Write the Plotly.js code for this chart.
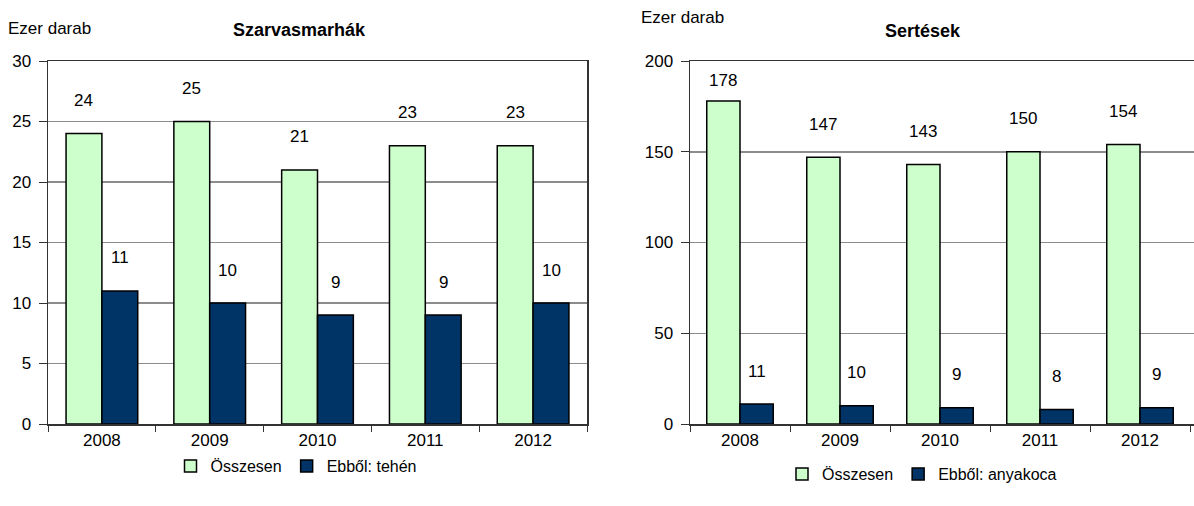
<!DOCTYPE html>
<html>
<head>
<meta charset="utf-8">
<script src="https://cdn.plot.ly/plotly-3.0.1.min.js"></script>
<style>
  html, body { margin: 0; padding: 0; background: #fff; }
  #chart { width: 1194px; height: 506px; }
</style>
</head>
<body>
<div id="chart"></div>
<script>
// data
var years = ['2008', '2009', '2010', '2011', '2012'];
var cattleTotal = [24, 25, 21, 23, 23];
var cattleCows = [11, 10, 9, 9, 10];
var pigsTotal = [178, 147, 143, 150, 154];
var pigsSows = [11, 10, 9, 8, 9];

var W = 1194, H = 506;
var plotTop = 61, plotBottom = 424;
var font = 'Liberation Sans, Arial, sans-serif';
var green = '#ccffcc', navy = '#003366';

function bar(y, name, color, xa, ya, leg) {
  return {
    type: 'bar', x: years, y: y, name: name,
    xaxis: xa, yaxis: ya, legend: leg,
    marker: {color: color, line: {color: '#000', width: 1.5}},
    hoverinfo: 'none'
  };
}

var data = [
  bar(cattleTotal, 'Összesen', green, 'x', 'y', 'legend'),
  bar(cattleCows, 'Ebből: tehén', navy, 'x', 'y', 'legend'),
  bar(pigsTotal, 'Összesen', green, 'x2', 'y2', 'legend2'),
  bar(pigsSows, 'Ebből: anyakoca', navy, 'x2', 'y2', 'legend2')
];

// value labels, ~32px above each bar (kept inside the frame)
var annotations = [];
var gap = 0.335;
function addLabels(vals, side, xref, yref, ymax) {
  var ppu = (plotBottom - plotTop) / ymax;
  var off = (1 - gap) / 4 * side;
  for (var i = 0; i < vals.length; i++) {
    var shift = Math.min(33, (ymax - vals[i]) * ppu - 20);
    annotations.push({
      xref: xref, yref: yref, x: i + off, y: vals[i],
      text: String(vals[i]), showarrow: false, yshift: shift,
      font: {size: 17, color: '#000', family: font}
    });
  }
}
addLabels(cattleTotal, -1, 'x', 'y', 30);
addLabels(cattleCows, 1, 'x', 'y', 30);
addLabels(pigsTotal, -1, 'x2', 'y2', 200);
addLabels(pigsSows, 1, 'x2', 'y2', 200);

function paperText(text, px, py, anchor, bold, size) {
  annotations.push({
    xref: 'paper', yref: 'paper', x: px / W, y: 1 - py / H,
    xanchor: anchor, yanchor: 'middle', showarrow: false,
    text: bold ? '<b>' + text + '</b>' : text,
    font: {size: size, color: '#000', family: font}
  });
}
paperText('Ezer darab', 6, 28, 'left', false, 17);
paperText('Szarvasmarhák', 299, 30, 'center', true, 18);
paperText('Ezer darab', 639, 17, 'left', false, 17);
paperText('Sertések', 923, 31, 'center', true, 18);

var yDom = [(H - plotBottom) / H, (H - plotTop) / H];

function xAxis(domain, range, anchor) {
  return {
    domain: domain, range: range, anchor: anchor, type: 'category',
    showline: true, linecolor: '#333', linewidth: 1.5, mirror: true,
    ticks: 'outside', tickson: 'boundaries', ticklen: 6, tickcolor: '#333',
    showgrid: false, fixedrange: true,
    tickfont: {size: 17, color: '#000', family: font}
  };
}
function yAxis(range, dtick, anchor, mirror) {
  return {
    domain: yDom, range: range, dtick: dtick, anchor: anchor,
    showline: true, linecolor: '#333', linewidth: 1.5, mirror: mirror,
    ticks: 'outside', ticklen: 8, tickcolor: '#333', ticklabelstandoff: 4,
    showgrid: true, gridcolor: '#8c8c8c', gridwidth: 1.5,
    zeroline: false, fixedrange: true,
    tickfont: {size: 17, color: '#000', family: font}
  };
}

var legendStyle = {
  orientation: 'h', xanchor: 'center', yanchor: 'middle',
  itemwidth: 30,
  font: {size: 16, color: '#000', family: font},
  itemclick: false, itemdoubleclick: false
};

var layout = {
  width: W, height: H,
  margin: {l: 0, r: 0, t: 0, b: 0},
  paper_bgcolor: '#fff', plot_bgcolor: '#fff',
  showlegend: true,
  barmode: 'group',
  bargap: gap, bargroupgap: 0,
  xaxis: xAxis([48 / W, 587 / W], [-0.5, 4.5], 'y'),
  yaxis: yAxis([0, 30], 5, 'x', true),
  xaxis2: xAxis([690 / W, 1], [-0.5, 4.54], 'y2'),
  yaxis2: yAxis([0, 200], 50, 'x2', false),
  legend: Object.assign({x: 296 / W, y: 1 - 466 / H}, legendStyle),
  legend2: Object.assign({x: 922 / W, y: 1 - 474 / H}, legendStyle),
  annotations: annotations,
  font: {family: font}
};

Plotly.newPlot('chart', data, layout, {displayModeBar: false, staticPlot: true});
</script>
</body>
</html>
